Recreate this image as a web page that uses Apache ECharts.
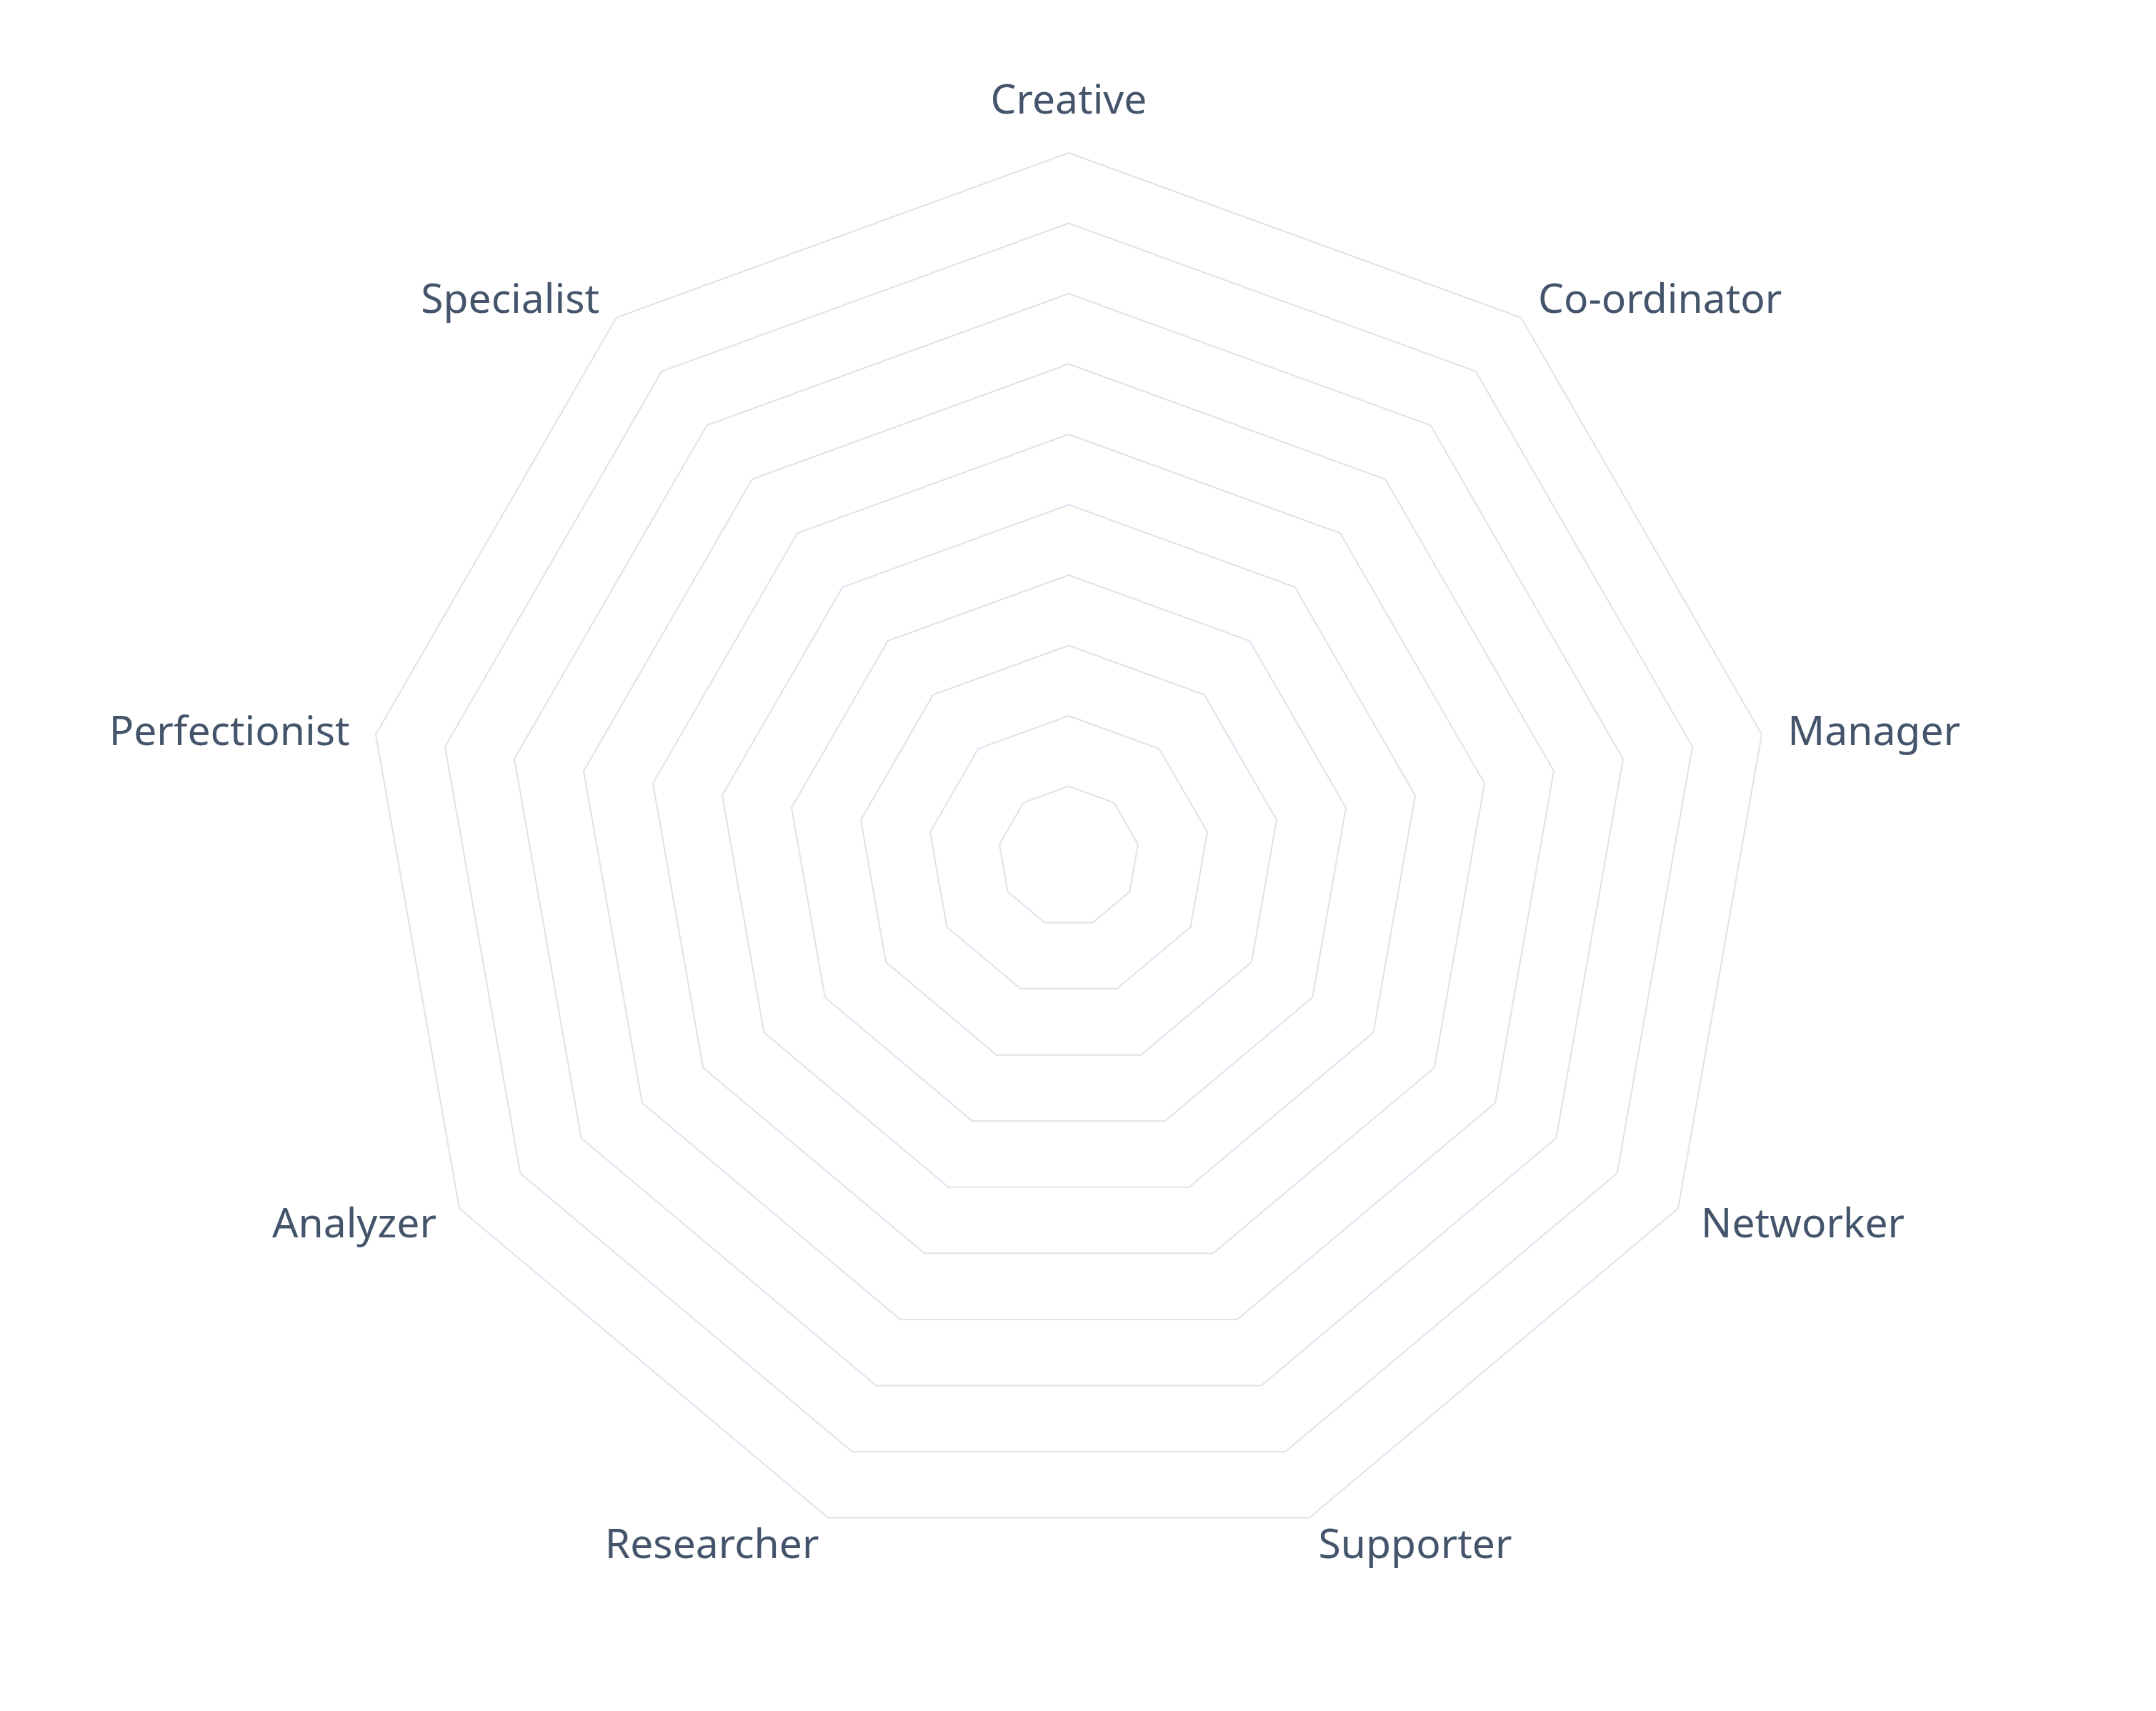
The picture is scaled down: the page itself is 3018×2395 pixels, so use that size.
<!DOCTYPE html>
<html>
<head>
<meta charset="utf-8">
<script src="https://cdn.jsdelivr.net/npm/echarts@6/dist/echarts.min.js"></script>
<style>
html,body{margin:0;padding:0;background:#fff;}
#chart{width:3018px;height:2395px;}
</style>
</head>
<body>
<div id="chart"></div>
<script>
// Indicators, listed counter-clockwise from the top (ECharts radar order)
const indicatorNames = ['Creative', 'Specialist', 'Perfectionist', 'Analyzer', 'Researcher', 'Supporter', 'Networker', 'Manager', 'Co-ordinator'];
const indicatorMax = [10, 10, 10, 10, 10, 10, 10, 10, 10];
const seriesValues = []; // no data marks are shown in the reference

const chart = echarts.init(document.getElementById('chart'), null, {renderer: 'canvas'});
chart.setOption({
  backgroundColor: '#ffffff',
  animation: false,
  radar: {
    center: [1496, 1199],
    radius: 985,
    startAngle: 90,
    splitNumber: 10,
    shape: 'polygon',
    nameGap: 37,
    indicator: indicatorNames.map((n, i) => ({name: n, max: indicatorMax[i], min: 0})),
    axisName: {
      color: '#44546b',
      fontFamily: 'Noto Sans',
      fontSize: 57,
      padding: [0, 0, 6, 0],
      formatter: function (name) { return '{a|' + name + '}'; },
      rich: {
        a: {
          color: '#44546b',
          fontFamily: 'Noto Sans',
          fontSize: 57,
          padding: [17, 0, 0, 0]
        }
      }
    },
    axisLine: {show: false},
    axisTick: {show: false},
    axisLabel: {show: false},
    splitArea: {show: false},
    splitLine: {lineStyle: {color: '#DDE3EC', width: 2}}
  },
  series: [{
    type: 'radar',
    data: seriesValues.length ? [{value: seriesValues}] : []
  }]
});
</script>
</body>
</html>
